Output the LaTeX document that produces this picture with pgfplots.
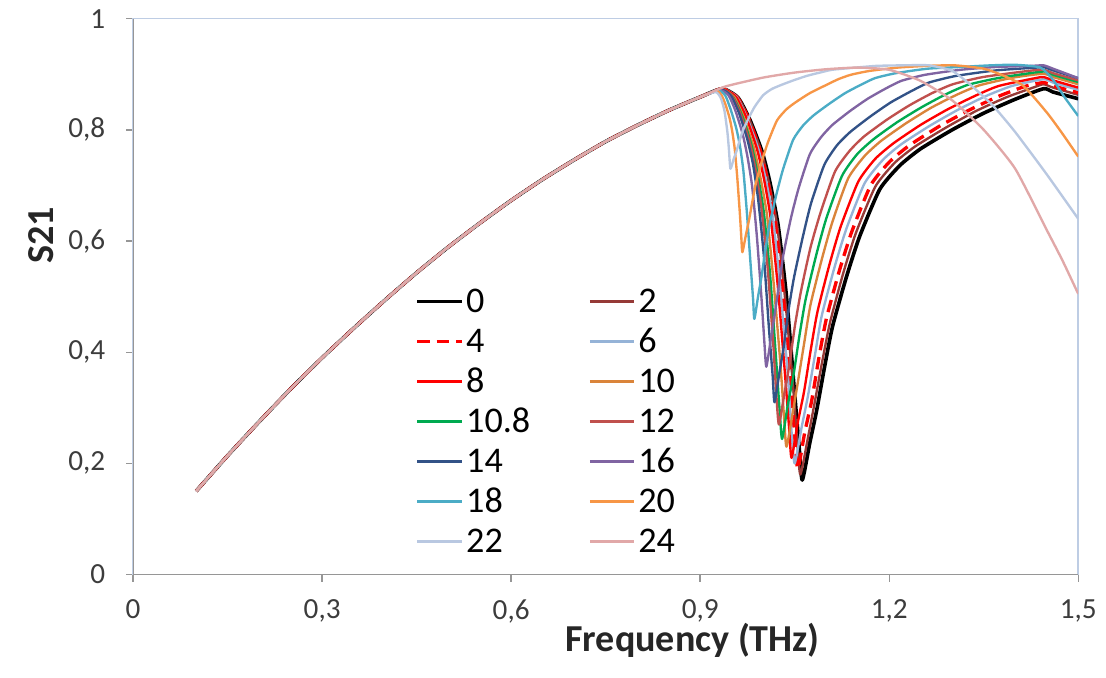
\documentclass[border=0pt]{standalone}
\usepackage{fontspec}
\setmainfont{Carlito}
\usepackage{pgfplots}
\pgfplotsset{compat=1.18}
\definecolor{axgray}{RGB}{150,150,150}
\definecolor{bordercol}{RGB}{190,205,228}
\definecolor{lblgray}{RGB}{60,60,60}
\definecolor{cTwo}{RGB}{150,58,55}
\definecolor{cSix}{RGB}{149,179,215}
\definecolor{cTen}{RGB}{218,132,58}
\definecolor{cTenEight}{RGB}{0,170,80}
\definecolor{cTwelve}{RGB}{192,80,77}
\definecolor{cFourteen}{RGB}{50,82,135}
\definecolor{cSixteen}{RGB}{128,100,162}
\definecolor{cEighteen}{RGB}{75,172,198}
\definecolor{cTwenty}{RGB}{247,150,70}
\definecolor{cTwentyTwo}{RGB}{185,200,225}
\definecolor{cTwentyFour}{RGB}{225,168,168}
\begin{document}
\begin{tikzpicture}
\begin{axis}[
  scale only axis, width=340pt, height=200pt,
  xmin=0, xmax=1.5, ymin=0, ymax=1,
  xtick={0,0.3,0.6,0.9,1.2,1.5},
  xticklabels={0,{0,3},{0,6},{0,9},{1,2},{1,5}},
  ytick={0,0.2,0.4,0.6,0.8,1},
  yticklabels={0,{0,2},{0,4},{0,6},{0,8},1},
  tick align=outside, xtick pos=left, ytick pos=left,
  major tick length=2.5pt,
  tick style={color=axgray, line width=0.5pt},
  axis line style={draw=bordercol, line width=0.6pt},
  ticklabel style={font=\fontsize{10.5}{12}\selectfont, text=lblgray},
  yticklabel style={xshift=-4pt},
  xticklabel style={yshift=-3pt},
  /pgf/number format/assume math mode=true,
  every axis x label/.style={at={(axis description cs:0.592,-0.119)}, anchor=center},
  every axis y label/.style={at={(axis description cs:-0.097,0.61)}, anchor=center, rotate=90},
  xlabel={Frequency (THz)}, ylabel={S21},
  label style={font=\bfseries\fontsize{13.7}{16}\selectfont, text=black!85},
  legend columns=2,
  legend cell align=left,
  legend entries={0,2,4,6,8,10,10.8,12,14,16,18,20,22,24},
  legend image code/.code={\draw[#1] (0pt,0pt) -- (16pt,0pt);},
  legend style={draw=none, fill=none, at={(0.298,0.5225)}, anchor=north west,
    inner sep=0pt, font=\fontsize{13}{15}\selectfont, row sep=2.4pt,
    nodes={inner sep=1pt, text height=9pt, text depth=1pt},
    /tikz/column 2/.style={column sep=20pt}},
  every axis plot/.append style={line width=0.85pt, line join=round, smooth, tension=0.35},
]
% 0
\addplot[black, line width=1.3pt] coordinates {(0.1,0.150) (0.15,0.214) (0.2,0.275) (0.25,0.334) (0.3,0.390) (0.35,0.443) (0.4,0.494) (0.45,0.543) (0.5,0.589) (0.55,0.632) (0.6,0.673) (0.65,0.711) (0.7,0.746) (0.75,0.779) (0.8,0.808) (0.85,0.835) (0.9,0.859)
 (0.935,0.874) (0.960,0.858) (0.979,0.818) (0.9985,0.760) (1.011,0.704) (1.024,0.626) (1.037,0.500) (1.049,0.338) (1.057,0.230) (1.062,0.170) (1.074,0.237) (1.085,0.296) (1.097,0.371) (1.110,0.446) (1.132,0.535) (1.153,0.608) (1.185,0.693) (1.217,0.736) (1.250,0.766) (1.300,0.800) (1.350,0.830) (1.400,0.855) (1.445,0.874) (1.460,0.868) (1.500,0.856)};
% 2
\addplot[cTwo] coordinates {(0.1,0.150) (0.15,0.214) (0.2,0.275) (0.25,0.334) (0.3,0.390) (0.35,0.443) (0.4,0.494) (0.45,0.543) (0.5,0.589) (0.55,0.632) (0.6,0.673) (0.65,0.711) (0.7,0.746) (0.75,0.779) (0.8,0.808) (0.85,0.835) (0.9,0.859)
 (0.935,0.874) (0.960,0.858) (0.978,0.819) (0.997,0.761) (1.009,0.706) (1.022,0.630) (1.034,0.505) (1.047,0.346) (1.054,0.239) (1.059,0.180) (1.071,0.246) (1.081,0.305) (1.093,0.379) (1.106,0.453) (1.127,0.542) (1.147,0.614) (1.178,0.698) (1.209,0.741) (1.241,0.770) (1.290,0.804) (1.338,0.834) (1.387,0.859) (1.431,0.877) (1.445,0.882) (1.460,0.876) (1.500,0.863)};
% 4
\addplot[red, line width=1.2pt, dash pattern=on 4.5pt off 2.5pt] coordinates {(0.1,0.150) (0.15,0.214) (0.2,0.275) (0.25,0.334) (0.3,0.390) (0.35,0.443) (0.4,0.494) (0.45,0.543) (0.5,0.589) (0.55,0.632) (0.6,0.673) (0.65,0.711) (0.7,0.746) (0.75,0.779) (0.8,0.808) (0.85,0.835) (0.9,0.859)
 (0.935,0.874) (0.959,0.858) (0.977,0.820) (0.995,0.763) (1.007,0.708) (1.019,0.633) (1.031,0.511) (1.043,0.354) (1.050,0.248) (1.055,0.190) (1.066,0.256) (1.077,0.313) (1.088,0.387) (1.100,0.459) (1.121,0.547) (1.141,0.618) (1.171,0.701) (1.201,0.743) (1.232,0.772) (1.279,0.806) (1.326,0.835) (1.373,0.860) (1.415,0.878) (1.445,0.885) (1.460,0.879) (1.500,0.867)};
% 6
\addplot[cSix] coordinates {(0.1,0.150) (0.15,0.214) (0.2,0.275) (0.25,0.334) (0.3,0.390) (0.35,0.443) (0.4,0.494) (0.45,0.543) (0.5,0.589) (0.55,0.632) (0.6,0.673) (0.65,0.711) (0.7,0.746) (0.75,0.779) (0.8,0.808) (0.85,0.835) (0.9,0.859)
 (0.935,0.874) (0.958,0.859) (0.975,0.820) (0.9925,0.765) (1.004,0.711) (1.016,0.637) (1.027,0.516) (1.039,0.361) (1.045,0.257) (1.050,0.200) (1.061,0.265) (1.071,0.321) (1.082,0.394) (1.093,0.466) (1.113,0.552) (1.132,0.622) (1.161,0.704) (1.190,0.746) (1.219,0.774) (1.264,0.807) (1.309,0.836) (1.354,0.861) (1.395,0.879) (1.445,0.891) (1.460,0.885) (1.500,0.872)};
% 8
\addplot[red] coordinates {(0.1,0.150) (0.15,0.214) (0.2,0.275) (0.25,0.334) (0.3,0.390) (0.35,0.443) (0.4,0.494) (0.45,0.543) (0.5,0.589) (0.55,0.632) (0.6,0.673) (0.65,0.711) (0.7,0.746) (0.75,0.779) (0.8,0.808) (0.85,0.835) (0.9,0.859)
 (0.935,0.874) (0.957,0.859) (0.9735,0.821) (0.990,0.766) (1.001,0.713) (1.012,0.640) (1.023,0.521) (1.034,0.369) (1.041,0.266) (1.045,0.210) (1.055,0.274) (1.065,0.330) (1.075,0.401) (1.086,0.472) (1.105,0.557) (1.123,0.626) (1.151,0.707) (1.178,0.748) (1.207,0.776) (1.250,0.809) (1.293,0.837) (1.336,0.861) (1.374,0.879) (1.432,0.893) (1.445,0.895) (1.460,0.889) (1.500,0.876)};
% 10
\addplot[cTen] coordinates {(0.1,0.150) (0.15,0.214) (0.2,0.275) (0.25,0.334) (0.3,0.390) (0.35,0.443) (0.4,0.494) (0.45,0.543) (0.5,0.589) (0.55,0.632) (0.6,0.673) (0.65,0.711) (0.7,0.746) (0.75,0.779) (0.8,0.808) (0.85,0.835) (0.9,0.859)
 (0.933,0.873) (0.954,0.859) (0.969,0.823) (0.985,0.769) (0.995,0.718) (1.006,0.647) (1.016,0.532) (1.027,0.384) (1.033,0.285) (1.037,0.230) (1.047,0.292) (1.055,0.346) (1.065,0.416) (1.075,0.485) (1.093,0.567) (1.110,0.635) (1.135,0.713) (1.161,0.753) (1.187,0.780) (1.227,0.812) (1.267,0.840) (1.307,0.863) (1.343,0.880) (1.397,0.894) (1.445,0.901) (1.460,0.895) (1.500,0.882)};
% 10.8
\addplot[cTenEight] coordinates {(0.1,0.150) (0.15,0.214) (0.2,0.275) (0.25,0.334) (0.3,0.390) (0.35,0.443) (0.4,0.494) (0.45,0.543) (0.5,0.589) (0.55,0.632) (0.6,0.673) (0.65,0.711) (0.7,0.746) (0.75,0.779) (0.8,0.808) (0.85,0.835) (0.9,0.859)
 (0.933,0.873) (0.952,0.859) (0.967,0.824) (0.9815,0.772) (0.991,0.721) (1.001,0.652) (1.011,0.539) (1.020,0.395) (1.026,0.297) (1.030,0.244) (1.039,0.305) (1.048,0.358) (1.057,0.426) (1.067,0.493) (1.084,0.574) (1.100,0.640) (1.125,0.717) (1.149,0.756) (1.175,0.783) (1.213,0.814) (1.252,0.841) (1.290,0.864) (1.325,0.881) (1.377,0.894) (1.445,0.905) (1.460,0.899) (1.500,0.886)};
% 12
\addplot[cTwelve] coordinates {(0.1,0.150) (0.15,0.214) (0.2,0.275) (0.25,0.334) (0.3,0.390) (0.35,0.443) (0.4,0.494) (0.45,0.543) (0.5,0.589) (0.55,0.632) (0.6,0.673) (0.65,0.711) (0.7,0.746) (0.75,0.779) (0.8,0.808) (0.85,0.835) (0.9,0.859)
 (0.933,0.873) (0.951,0.860) (0.965,0.826) (0.979,0.776) (0.988,0.728) (0.997,0.661) (1.007,0.553) (1.016,0.414) (1.021,0.321) (1.025,0.270) (1.034,0.328) (1.042,0.380) (1.050,0.445) (1.060,0.510) (1.075,0.588) (1.091,0.651) (1.114,0.725) (1.137,0.762) (1.160,0.788) (1.196,0.818) (1.232,0.844) (1.268,0.866) (1.301,0.882) (1.349,0.895) (1.421,0.906) (1.445,0.908) (1.460,0.902) (1.500,0.889)};
% 14
\addplot[cFourteen] coordinates {(0.1,0.150) (0.15,0.214) (0.2,0.275) (0.25,0.334) (0.3,0.390) (0.35,0.443) (0.4,0.494) (0.45,0.543) (0.5,0.589) (0.55,0.632) (0.6,0.673) (0.65,0.711) (0.7,0.746) (0.75,0.779) (0.8,0.808) (0.85,0.835) (0.9,0.859)
 (0.932,0.873) (0.949,0.861) (0.962,0.829) (0.975,0.782) (0.984,0.737) (0.992,0.675) (1.001,0.574) (1.009,0.445) (1.015,0.358) (1.018,0.310) (1.026,0.365) (1.033,0.413) (1.040,0.474) (1.049,0.535) (1.063,0.608) (1.076,0.668) (1.097,0.737) (1.117,0.772) (1.138,0.796) (1.170,0.824) (1.202,0.849) (1.234,0.869) (1.263,0.885) (1.306,0.897) (1.370,0.907) (1.434,0.912) (1.445,0.913) (1.460,0.907) (1.500,0.893)};
% 16
\addplot[cSixteen] coordinates {(0.1,0.150) (0.15,0.214) (0.2,0.275) (0.25,0.334) (0.3,0.390) (0.35,0.443) (0.4,0.494) (0.45,0.543) (0.5,0.589) (0.55,0.632) (0.6,0.673) (0.65,0.711) (0.7,0.746) (0.75,0.779) (0.8,0.808) (0.85,0.835) (0.9,0.859)
 (0.930,0.872) (0.945,0.862) (0.956,0.834) (0.9675,0.792) (0.975,0.752) (0.9825,0.698) (0.990,0.608) (0.9975,0.494) (1.002,0.416) (1.005,0.374) (1.012,0.423) (1.018,0.466) (1.025,0.521) (1.032,0.575) (1.044,0.641) (1.056,0.694) (1.074,0.756) (1.092,0.787) (1.110,0.809) (1.138,0.834) (1.166,0.856) (1.194,0.874) (1.219,0.888) (1.257,0.899) (1.313,0.908) (1.369,0.913) (1.425,0.915) (1.445,0.916) (1.460,0.910) (1.500,0.893)};
% 18
\addplot[cEighteen] coordinates {(0.1,0.150) (0.15,0.214) (0.2,0.275) (0.25,0.334) (0.3,0.390) (0.35,0.443) (0.4,0.494) (0.45,0.543) (0.5,0.589) (0.55,0.632) (0.6,0.673) (0.65,0.711) (0.7,0.746) (0.75,0.779) (0.8,0.808) (0.85,0.835) (0.9,0.859)
 (0.928,0.871) (0.9396,0.862) (0.948,0.838) (0.957,0.804) (0.963,0.772) (0.9686,0.726) (0.974,0.653) (0.980,0.558) (0.984,0.495) (0.986,0.460) (0.992,0.501) (0.9975,0.537) (1.0035,0.584) (1.010,0.629) (1.021,0.684) (1.0315,0.729) (1.0475,0.782) (1.0635,0.808) (1.080,0.826) (1.105,0.847) (1.130,0.866) (1.155,0.881) (1.1775,0.893) (1.211,0.902) (1.261,0.910) (1.311,0.913) (1.361,0.916) (1.400,0.917) (1.440,0.912) (1.460,0.890) (1.480,0.856) (1.500,0.825)};
% 20
\addplot[cTwenty] coordinates {(0.1,0.150) (0.15,0.214) (0.2,0.275) (0.25,0.334) (0.3,0.390) (0.35,0.443) (0.4,0.494) (0.45,0.543) (0.5,0.589) (0.55,0.632) (0.6,0.673) (0.65,0.711) (0.7,0.746) (0.75,0.779) (0.8,0.808) (0.85,0.835) (0.9,0.859)
 (0.926,0.870) (0.934,0.862) (0.940,0.846) (0.9465,0.822) (0.9506,0.799) (0.9547,0.767) (0.9588,0.715) (0.963,0.649) (0.9654,0.604) (0.967,0.580) (0.9724,0.610) (0.9774,0.637) (0.9828,0.671) (0.9886,0.705) (0.9985,0.746) (1.008,0.779) (1.022,0.817) (1.037,0.837) (1.052,0.850) (1.074,0.866) (1.097,0.879) (1.119,0.891) (1.139,0.899) (1.169,0.906) (1.214,0.912) (1.259,0.915) (1.304,0.916) (1.350,0.910) (1.380,0.898) (1.413,0.879) (1.451,0.830) (1.475,0.793) (1.500,0.752)};
% 22
\addplot[cTwentyTwo] coordinates {(0.1,0.150) (0.15,0.214) (0.2,0.275) (0.25,0.334) (0.3,0.390) (0.35,0.443) (0.4,0.494) (0.45,0.543) (0.5,0.589) (0.55,0.632) (0.6,0.673) (0.65,0.711) (0.7,0.746) (0.75,0.779) (0.8,0.808) (0.85,0.835) (0.9,0.859)
 (0.924,0.868) (0.9324,0.858) (0.9384,0.835) (0.9432,0.796) (0.9456,0.765) (0.948,0.730) (0.953,0.747) (0.9577,0.762) (0.9627,0.781) (0.9682,0.800) (0.9774,0.822) (0.9862,0.841) (0.9997,0.862) (1.013,0.873) (1.027,0.880) (1.048,0.889) (1.069,0.897) (1.090,0.903) (1.109,0.908) (1.137,0.911) (1.179,0.915) (1.221,0.916) (1.263,0.916) (1.300,0.906) (1.330,0.880) (1.365,0.843) (1.400,0.796) (1.450,0.720) (1.500,0.640)};
% 24
\addplot[cTwentyFour] coordinates {(0.1,0.150) (0.15,0.214) (0.2,0.275) (0.25,0.334) (0.3,0.390) (0.35,0.443) (0.4,0.494) (0.45,0.543) (0.5,0.589) (0.55,0.632) (0.6,0.673) (0.65,0.711) (0.7,0.746) (0.75,0.779) (0.8,0.808) (0.85,0.835) (0.9,0.859)
 (0.935,0.876) (0.950,0.881) (1.000,0.894) (1.050,0.903) (1.100,0.909) (1.150,0.912) (1.200,0.908) (1.250,0.888) (1.300,0.853) (1.350,0.800) (1.400,0.730) (1.450,0.620) (1.475,0.565) (1.500,0.505)};
\draw[axgray, line width=0.6pt] (rel axis cs:0,1) -- (rel axis cs:0,0) -- (rel axis cs:1,0);
\end{axis}
\path ([xshift=-47.9pt,yshift=-37pt]current axis.south west) ([xshift=10pt,yshift=4.3pt]current axis.north east);
\end{tikzpicture}
\end{document}
